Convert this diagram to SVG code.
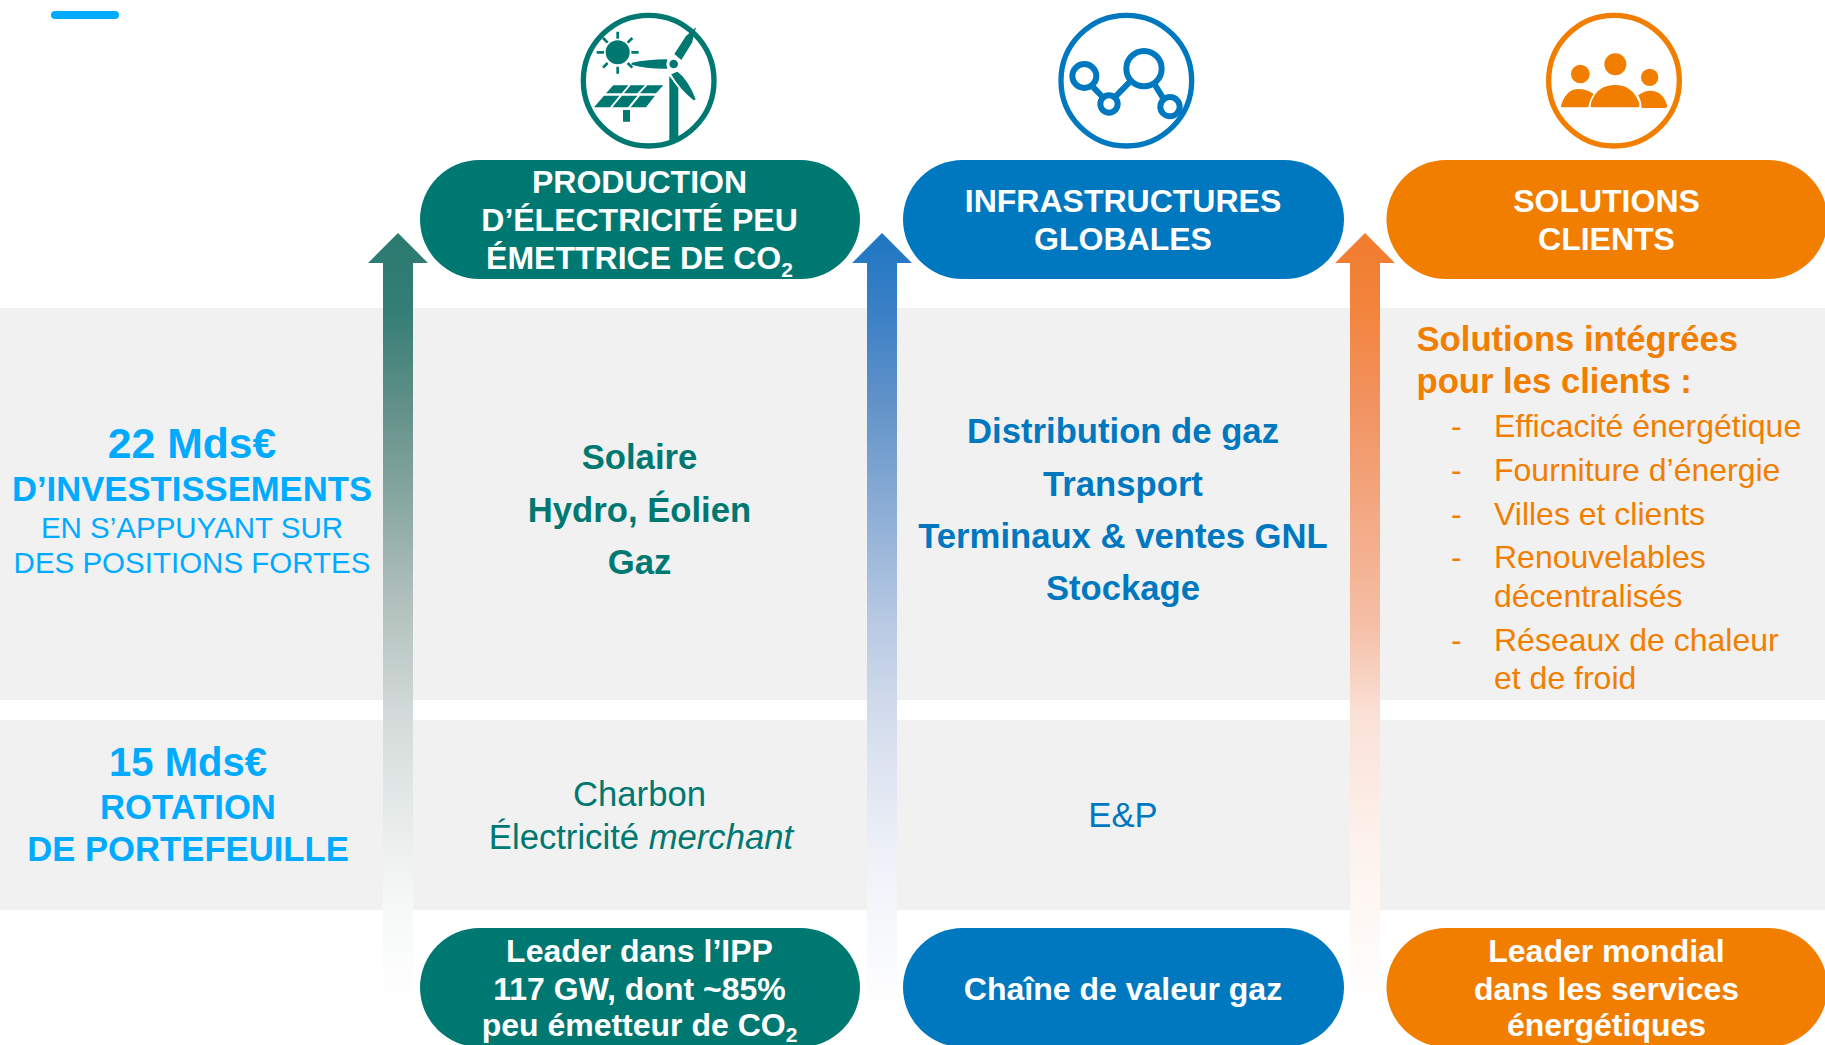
<svg xmlns="http://www.w3.org/2000/svg" width="1825" height="1045" viewBox="0 0 1825 1045">
<style>
text{font-family:"Liberation Sans",Arial,sans-serif;text-anchor:middle}
.b{font-weight:700}
.w{fill:#fff;font-weight:700;font-size:32px}
.lb{fill:#00aaff}
.te{fill:#007872}
.bl{fill:#0078bf}
.or{fill:#f27e00}
.s{font-size:21px}
.l{text-anchor:start}
.band{fill:#f1f1f1}
</style>
<defs>
<linearGradient id="ga" gradientUnits="userSpaceOnUse" x1="0" y1="233" x2="0" y2="1010"><stop offset="0" stop-color="#2a7a70"/><stop offset=".1" stop-color="#347e75"/><stop offset=".215" stop-color="#5f8f87"/><stop offset=".47" stop-color="#b0bfbb"/><stop offset=".62" stop-color="#d2dbd9"/><stop offset=".86" stop-color="#f6f8f8"/><stop offset="1" stop-color="#fff"/></linearGradient>
<linearGradient id="gb" gradientUnits="userSpaceOnUse" x1="0" y1="233" x2="0" y2="1010"><stop offset="0" stop-color="#1e76c2"/><stop offset=".1" stop-color="#3a80c6"/><stop offset=".215" stop-color="#6092c8"/><stop offset=".5" stop-color="#b8c9e3"/><stop offset=".62" stop-color="#d3dcec"/><stop offset=".8" stop-color="#eef1f8"/><stop offset="1" stop-color="#fff"/></linearGradient>
<linearGradient id="gc" gradientUnits="userSpaceOnUse" x1="0" y1="233" x2="0" y2="1010"><stop offset="0" stop-color="#f07c2e"/><stop offset=".09" stop-color="#f3833a"/><stop offset=".215" stop-color="#f1925f"/><stop offset=".5" stop-color="#f5bea5"/><stop offset=".62" stop-color="#fae1d7"/><stop offset=".8" stop-color="#fdf3ee"/><stop offset="1" stop-color="#fff"/></linearGradient>
</defs>
<rect width="1825" height="1045" fill="#fff"/>
<rect x="51" y="11" width="68" height="8" rx="4" fill="#00aaff"/>
<rect class="band" x="0" y="308" width="1825" height="392"/>
<rect class="band" x="0" y="720" width="1825" height="190"/>
<g id="connectors">
<path fill="url(#ga)" d="M398 233L428 263H413V1010H383V263H368Z"/>
<path fill="url(#gb)" d="M882 233L912 263H897V1010H867V263H852Z"/>
<path fill="url(#gc)" d="M1365 233L1395 263H1380V1010H1350V263H1335Z"/>
</g>
<g id="icon-production" transform="translate(560 0) scale(.33333)" fill="#007872">
<circle cx="266" cy="242" r="196" fill="none" stroke="#007872" stroke-width="16"/>
<circle cx="173" cy="157" r="36"/>
<path stroke="#007872" stroke-width="8" fill="none" d="M173 95V116M173 200V221M110 157H132M214 157H236M129 114L143 128M217 114L203 128M129 203L143 189M217 203L203 189"/>
<path d="M328 228L355 262V410L328 422Z"/>
<path d="M215 188Q260 179 322 178V206Q260 207 215 194ZM343 162L378 108L408 82L396 128L364 180Z"/>
<path stroke="#fff" stroke-width="5" d="M352 212Q385 235 410 298L402 305Q355 268 330 222Z"/>
<circle cx="341" cy="192" r="22" fill="#fff"/><circle cx="341" cy="192" r="13"/>
<path d="M160 256H205L185 280H138ZM212 256H255L232 280H192ZM262 256H310L288 280H240ZM132 287H178L150 322H102ZM186 287H232L204 322H157ZM240 287H285L258 322H212ZM189 330H210V365H189Z"/>
</g>
<g id="icon-infrastructures" transform="translate(1040 0) scale(.33333)" fill="none" stroke="#0078bf">
<circle cx="259" cy="242" r="196" stroke-width="16"/>
<g stroke-width="18"><circle cx="133" cy="228" r="36"/><circle cx="207" cy="312" r="26"/><circle cx="312" cy="206" r="53"/><circle cx="390" cy="320" r="29"/>
<path d="M160 262L185 288M228 288L270 245M345 255L368 292"/></g>
</g>
<g id="icon-solutions" transform="translate(1530 0) scale(.33333)" fill="#f27e00">
<circle cx="252" cy="242" r="196" fill="none" stroke="#f27e00" stroke-width="16"/>
<circle cx="151" cy="222" r="28"/><circle cx="256" cy="193" r="33"/><circle cx="359" cy="232" r="26"/>
<path d="M93 317Q108 267 146 267Q170 267 191 282Q178 300 175 322H98Q92 322 93 317ZM187 322Q178 322 186 300Q205 255 256 255Q305 255 326 305Q332 322 322 322ZM325 285Q345 272 360 272Q398 272 412 317Q412 324 405 324H335Q335 305 325 285Z"/>
</g>
<g id="pill-production"><rect x="420" y="160" width="440" height="119" rx="59.500" fill="#007872"/>
<text class="w" x="639.500" y="193">PRODUCTION</text><text class="w" x="639.500" y="231">D’ÉLECTRICITÉ PEU</text><text class="w" x="639.500" y="269">ÉMETTRICE DE CO<tspan class="s" dy="8">2</tspan></text></g>
<g id="pill-infrastructures"><rect x="903" y="160" width="441" height="119" rx="59.500" fill="#0078bf"/>
<text class="w" x="1123" y="212">INFRASTRUCTURES</text><text class="w" x="1123" y="250">GLOBALES</text></g>
<g id="pill-solutions"><rect x="1386.500" y="160" width="441" height="119" rx="59.500" fill="#f27e00"/>
<text class="w" x="1606.500" y="212">SOLUTIONS</text><text class="w" x="1606.500" y="250">CLIENTS</text></g>
<g id="row-investissements">
<text class="b lb" x="192" y="458" font-size="42.670">22 Mds€</text>
<text class="b lb" x="192" y="500.500" font-size="34.670">D’INVESTISSEMENTS</text>
<text class="lb" x="192" y="538" font-size="29.500">EN S’APPUYANT SUR</text>
<text class="lb" x="192" y="573" font-size="29.500">DES POSITIONS FORTES</text>
</g>
<g id="row-rotation">
<text class="b lb" x="188" y="776" font-size="40">15 Mds€</text>
<text class="b lb" x="188" y="819" font-size="34.670">ROTATION</text>
<text class="b lb" x="188" y="861" font-size="34.670">DE PORTEFEUILLE</text>
</g>
<g id="cell-production">
<text class="b te" x="639.500" y="469" font-size="34.670">Solaire</text>
<text class="b te" x="639.500" y="522" font-size="34.670">Hydro, Éolien</text>
<text class="b te" x="639.500" y="574" font-size="34.670">Gaz</text>
<text class="te" x="639.500" y="806" font-size="34.670">Charbon</text>
<text class="te" x="641" y="849" font-size="34.670">Électricité <tspan font-style="italic">merchant</tspan></text>
</g>
<g id="cell-infrastructures">
<text class="b bl" x="1123" y="443" font-size="34.670">Distribution de gaz</text>
<text class="b bl" x="1123" y="496" font-size="34.670">Transport</text>
<text class="b bl" x="1123" y="548" font-size="34.670">Terminaux &amp; ventes GNL</text>
<text class="b bl" x="1123" y="600" font-size="34.670">Stockage</text>
<text class="bl" x="1123" y="827" font-size="34.670">E&amp;P</text>
</g>
<g id="cell-solutions">
<text class="b or l" x="1416.500" y="350.500" font-size="34.670">Solutions intégrées</text>
<text class="b or l" x="1416.500" y="392.500" font-size="34.670">pour les clients :</text>
<g font-size="32">
<text class="or l" x="1451" y="437">-</text><text class="or l" x="1494" y="437">Efficacité énergétique</text>
<text class="or l" x="1451" y="480.500">-</text><text class="or l" x="1494" y="480.500">Fourniture d’énergie</text>
<text class="or l" x="1451" y="524.500">-</text><text class="or l" x="1494" y="524.500">Villes et clients</text>
<text class="or l" x="1451" y="568">-</text><text class="or l" x="1494" y="568">Renouvelables</text>
<text class="or l" x="1494" y="606.500">décentralisés</text>
<text class="or l" x="1451" y="651">-</text><text class="or l" x="1494" y="651">Réseaux de chaleur</text>
<text class="or l" x="1494" y="689">et de froid</text>
</g>
</g>
<g id="leader-production"><rect x="420" y="928" width="440" height="119" rx="59.500" fill="#007872"/>
<text class="w" x="639.500" y="962">Leader dans l’IPP</text><text class="w" x="639.500" y="1000">117 GW, dont ~85%</text><text class="w" x="639.500" y="1036">peu émetteur de CO<tspan class="s" dy="6">2</tspan></text></g>
<g id="leader-infrastructures"><rect x="903" y="928" width="441" height="119" rx="59.500" fill="#0078bf"/>
<text class="w" x="1123" y="1000">Chaîne de valeur gaz</text></g>
<g id="leader-solutions"><rect x="1386.500" y="928" width="441" height="119" rx="59.500" fill="#f27e00"/>
<text class="w" x="1606.500" y="962">Leader mondial</text><text class="w" x="1606.500" y="1000">dans les services</text><text class="w" x="1606.500" y="1036">énergétiques</text></g>
</svg>
